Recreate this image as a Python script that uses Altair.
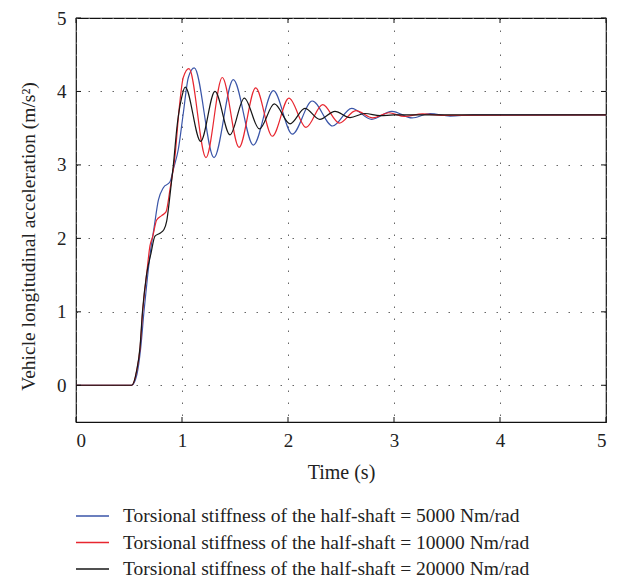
import altair as alt
import pandas as pd

# ---- data ----
series_names = [
    "Torsional stiffness of the half-shaft = 5000 Nm/rad",
    "Torsional stiffness of the half-shaft = 10000 Nm/rad",
    "Torsional stiffness of the half-shaft = 20000 Nm/rad",
]
series_colors = ["#3a55a8", "#e8262f", "#161616"]

t_5000 = [0, 0.525, 0.575, 0.61, 0.641, 0.675, 0.705, 0.736, 0.777, 0.824, 0.887, 0.918,
          0.965, 1.012, 1.06, 1.116, 1.302, 1.484, 1.673, 1.862, 2.041, 2.229, 2.421, 2.60,
          2.79, 2.98, 3.17, 3.34, 3.53, 3.75, 5.0]
v_5000 = [0, 0, 0.15, 0.5, 1.0, 1.48, 1.85, 2.14, 2.52, 2.69, 2.77, 2.94,
          3.21, 3.70, 4.19, 4.32, 3.10, 4.16, 3.27, 4.01, 3.42, 3.87, 3.53, 3.77,
          3.62, 3.73, 3.64, 3.70, 3.665, 3.68, 3.68]

t_10000 = [0, 0.525, 0.572, 0.604, 0.629, 0.667, 0.698, 0.723, 0.761, 0.808, 0.849, 0.887,
           0.934, 0.975, 1.012, 1.066, 1.226, 1.380, 1.538, 1.695, 1.852, 2.009, 2.17, 2.327,
           2.484, 2.64, 2.80, 2.95, 3.10, 3.27, 3.45, 5.0]
v_10000 = [0, 0, 0.19, 0.5, 1.0, 1.52, 1.9, 2.02, 2.25, 2.31, 2.36, 2.67,
           3.12, 3.79, 4.19, 4.31, 3.10, 4.19, 3.24, 4.05, 3.39, 3.91, 3.51, 3.82,
           3.57, 3.74, 3.64, 3.71, 3.66, 3.695, 3.675, 3.68]

t_20000 = [0, 0.525, 0.572, 0.604, 0.627, 0.665, 0.708, 0.745, 0.792, 0.830, 0.855, 0.887,
           0.918, 0.956, 0.997, 1.030, 1.176, 1.311, 1.453, 1.588, 1.73, 1.871, 2.019, 2.16,
           2.30, 2.443, 2.585, 2.726, 2.87, 3.0, 5.0]
v_20000 = [0, 0, 0.2, 0.52, 1.0, 1.5, 1.8, 2.03, 2.07, 2.12, 2.23, 2.59,
           2.99, 3.56, 3.92, 4.06, 3.32, 4.00, 3.41, 3.91, 3.49, 3.83, 3.56, 3.77,
           3.62, 3.73, 3.645, 3.70, 3.67, 3.68, 3.68]

x_ticks = [0, 1, 2, 3, 4, 5]
y_ticks = [0, 1, 2, 3, 4, 5]

# ---- tables ----
rows = []
for name, ts, vs in zip(series_names, [t_5000, t_10000, t_20000], [v_5000, v_10000, v_20000]):
    for i, (t, v) in enumerate(zip(ts, vs)):
        rows.append({"series": name, "t": t, "v": v, "order": i})
df = pd.DataFrame(rows)
xt = pd.DataFrame({"t": x_ticks})
yt = pd.DataFrame({"v": y_ticks})

W, H = 530, 404
TOP = 10
FONT = "Liberation Serif"
xscale = alt.Scale(domain=[0, 5], nice=False, zero=False)
yscale = alt.Scale(domain=[-0.5, 5], nice=False, zero=False)

x_axis = alt.Axis(values=x_ticks, title="Time (s)", grid=True, ticks=False, tickSize=0,
                  domain=False, labelPadding=9, labelBaseline="top",
                  titleY=50, titleBaseline="middle", titleFontSize=20)
y_axis = alt.Axis(values=y_ticks, title="Vehicle longitudinal acceleration (m/s\u00b2)",
                  grid=True, ticks=False, tickSize=0, domain=False, labelPadding=10,
                  titleX=-48, titleY=218, titleAngle=270, titleBaseline="middle",
                  titleAlign="center", titleFontSize=19.5)

lines = alt.Chart(df).mark_line(strokeWidth=1.2, interpolate="monotone").encode(
    x=alt.X("t:Q", scale=xscale, axis=x_axis),
    y=alt.Y("v:Q", scale=yscale, axis=y_axis),
    color=alt.Color("series:N", scale=alt.Scale(domain=series_names, range=series_colors),
                    legend=alt.Legend(title=None, orient="none", legendX=-1, legendY=489,
                                      symbolType="stroke", symbolSize=1089, clipHeight=18,
                                      symbolStrokeWidth=1.5, labelOffset=13, rowPadding=6.5,
                                      labelFontSize=19.5, labelFont=FONT, labelColor="#222",
                                      padding=0, labelLimit=600)),
    order="order:Q",
)

tick_style = dict(color="#111", strokeWidth=1)
bot = alt.Chart(xt).mark_rule(**tick_style).encode(
    x=alt.X("t:Q", scale=xscale, axis=x_axis), y=alt.value(H), y2=alt.value(H - 5))
top = alt.Chart(xt).mark_rule(**tick_style).encode(
    x=alt.X("t:Q", scale=xscale, axis=x_axis), y=alt.value(0), y2=alt.value(5))
left = alt.Chart(yt).mark_rule(**tick_style).encode(
    y=alt.Y("v:Q", scale=yscale, axis=y_axis), x=alt.value(0), x2=alt.value(5))
right = alt.Chart(yt).mark_rule(**tick_style).encode(
    y=alt.Y("v:Q", scale=yscale, axis=y_axis), x=alt.value(W), x2=alt.value(W - 5))

chart = alt.layer(lines, bot, top, left, right).properties(
    width=W, height=H,
    autosize=alt.AutoSizeParams(type="none"),
    padding={"left": 68, "top": TOP, "right": 7, "bottom": 570 - TOP - H},
    background="white",
).configure_view(stroke="#111", strokeWidth=1.2).configure_axis(
    labelFont=FONT, labelFontSize=19, labelColor="#222", titleFont=FONT,
    titleColor="#222", titleFontWeight="normal", gridColor="#666", gridDash=[1.5, 10.5],
    gridWidth=1,
)

chart.save("out.html", embed_options={"renderer": "svg", "actions": False})
